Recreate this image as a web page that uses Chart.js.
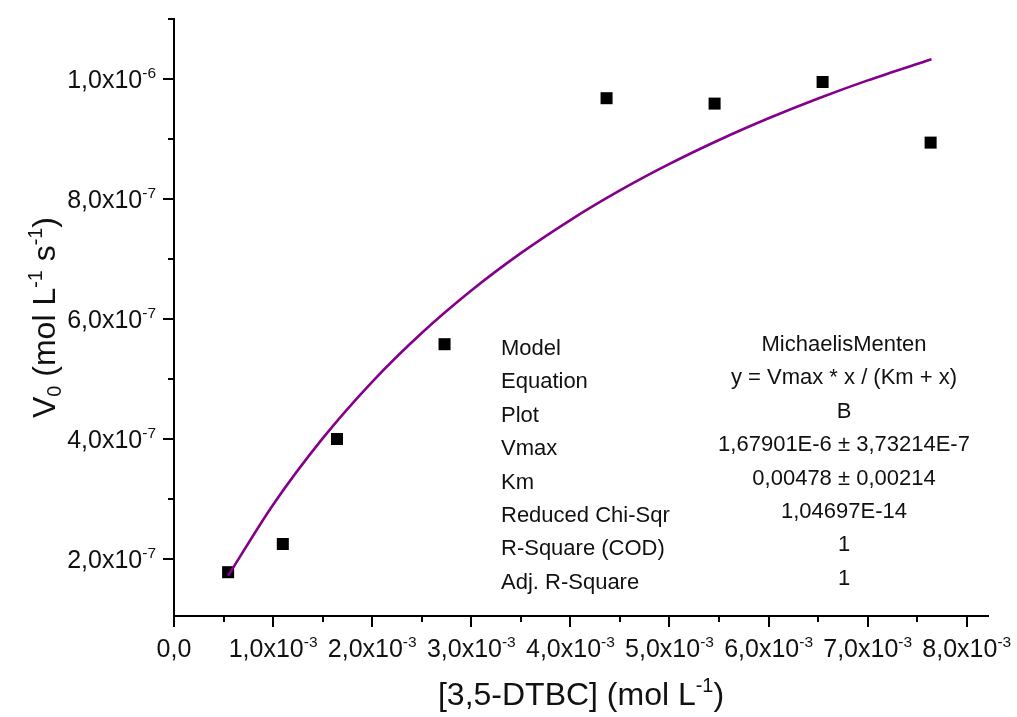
<!DOCTYPE html>
<html>
<head>
<meta charset="utf-8">
<script src="https://cdn.jsdelivr.net/npm/chart.js@4.4.1/dist/chart.umd.min.js"></script>
<style>
  html, body { margin: 0; padding: 0; background: #ffffff; }
  #wrap { width: 1017px; height: 717px; position: relative; }
</style>
</head>
<body>
<div id="wrap"><canvas id="c"></canvas></div>
<script>
// ---- data ----
const substrateConc = [0.546e-3, 1.098e-3, 1.645e-3, 2.73e-3, 4.365e-3, 5.455e-3, 6.545e-3, 7.635e-3];
const initialRate   = [1.78e-7, 2.25e-7, 4.0e-7, 5.58e-7, 9.68e-7, 9.59e-7, 9.95e-7, 8.94e-7];

// fitted Michaelis-Menten curve, sampled points (as seen on the picture)
const fitX = [0.546e-3, 1.0e-3, 1.5e-3, 2.0e-3, 2.5e-3, 3.0e-3, 3.5e-3, 4.0e-3, 4.5e-3, 5.0e-3, 5.5e-3, 6.0e-3, 6.5e-3, 7.0e-3, 7.644e-3];
const fitY = [1.721e-7, 2.905e-7, 4.010e-7, 4.953e-7, 5.766e-7, 6.474e-7, 7.097e-7, 7.649e-7, 8.142e-7, 8.584e-7, 8.983e-7, 9.345e-7, 9.675e-7, 9.977e-7, 1.0330e-6];

// axis ticks
const xMajorTicks = [0, 1e-3, 2e-3, 3e-3, 4e-3, 5e-3, 6e-3, 7e-3, 8e-3];
const xMajorLabels = ["0,0", "1,0x10", "2,0x10", "3,0x10", "4,0x10", "5,0x10", "6,0x10", "7,0x10", "8,0x10"];
const xMajorExps = ["", "-3", "-3", "-3", "-3", "-3", "-3", "-3", "-3"];
const xMinorTicks = [0.5e-3, 1.5e-3, 2.5e-3, 3.5e-3, 4.5e-3, 5.5e-3, 6.5e-3, 7.5e-3];
const yMajorTicks = [2e-7, 4e-7, 6e-7, 8e-7, 1e-6];
const yMajorLabels = ["2,0x10", "4,0x10", "6,0x10", "8,0x10", "1,0x10"];
const yMajorExps = ["-7", "-7", "-7", "-7", "-6"];
const yMinorTicks = [3e-7, 5e-7, 7e-7, 9e-7, 1.1e-6];

// fit report table
const statNames = ["Model", "Equation", "Plot", "Vmax", "Km", "Reduced Chi-Sqr", "R-Square (COD)", "Adj. R-Square"];
const statValues = ["MichaelisMenten", "y = Vmax * x / (Km + x)", "B", "1,67901E-6 \u00B1 3,73214E-7", "0,00478 \u00B1 0,00214", "1,04697E-14", "1", "1"];

const FONT = '"Liberation Sans", Arial, Helvetica, sans-serif';
const INK = '#111111';

function partsWidth(ctx, parts, size) {
  let w = 0;
  for (const [t, m] of parts) {
    const s = m === 0 ? size : size * 0.62;
    ctx.font = s + 'px ' + FONT;
    w += ctx.measureText(t).width;
  }
  return w;
}
function drawParts(ctx, parts, x, y, size, align) {
  const w = partsWidth(ctx, parts, size);
  let cx = align === 'center' ? x - w / 2 : (align === 'right' ? x - w : x);
  ctx.textAlign = 'left';
  ctx.textBaseline = 'alphabetic';
  for (const [t, m] of parts) {
    const s = m === 0 ? size : size * 0.62;
    ctx.font = s + 'px ' + FONT;
    let dy = 0;
    if (m === 1) dy = -size * 0.40;
    if (m === -1) dy = size * 0.20;
    ctx.fillText(t, cx, y + dy);
    cx += ctx.measureText(t).width;
  }
}

const decorPlugin = {
  id: 'decor',
  afterDraw(chart) {
    const ctx = chart.ctx;
    const xs = chart.scales.x, ys = chart.scales.y;
    const area = chart.chartArea;
    ctx.save();
    ctx.strokeStyle = '#000';
    ctx.fillStyle = INK;
    ctx.lineWidth = 2;
    ctx.lineCap = 'butt';
    // x ticks
    const xb = area.bottom;
    xMajorTicks.forEach(v => {
      const px = Math.round(xs.getPixelForValue(v));
      ctx.beginPath(); ctx.moveTo(px, xb); ctx.lineTo(px, xb + 11); ctx.stroke();
    });
    xMinorTicks.forEach(v => {
      const px = Math.round(xs.getPixelForValue(v));
      ctx.beginPath(); ctx.moveTo(px, xb); ctx.lineTo(px, xb + 6); ctx.stroke();
    });
    // y ticks
    const yl = area.left;
    yMajorTicks.forEach(v => {
      const py = Math.round(ys.getPixelForValue(v));
      ctx.beginPath(); ctx.moveTo(yl, py); ctx.lineTo(yl - 11, py); ctx.stroke();
    });
    yMinorTicks.forEach(v => {
      const py = Math.round(ys.getPixelForValue(v));
      ctx.beginPath(); ctx.moveTo(yl, py); ctx.lineTo(yl - 6, py); ctx.stroke();
    });
    // x tick labels
    const tickSize = 25;
    xMajorTicks.forEach((v, i) => {
      const px = xs.getPixelForValue(v);
      const parts = [[xMajorLabels[i], 0]];
      if (xMajorExps[i]) parts.push([xMajorExps[i], 1]);
      drawParts(ctx, parts, px, xb + 41, tickSize, 'center');
    });
    // y tick labels
    yMajorTicks.forEach((v, i) => {
      const py = ys.getPixelForValue(v);
      drawParts(ctx, [[yMajorLabels[i], 0], [yMajorExps[i], 1]], yl - 18, py + 9, tickSize, 'right');
    });
    // axis titles
    const titleSize = 32;
    drawParts(ctx, [["[3,5-DTBC] (mol L", 0], ["-1", 1], [")", 0]], (area.left + area.right) / 2, 705, titleSize, 'center');
    ctx.save();
    ctx.translate(55, (area.top + area.bottom) / 2);
    ctx.rotate(-Math.PI / 2);
    drawParts(ctx, [["V", 0], ["0", -1], [" (mol L", 0], ["-1", 1], [" s", 0], ["-1", 1], [")", 0]], 0, 0, titleSize, 'center');
    ctx.restore();
    // stats table
    const statSize = 22;
    statNames.forEach((n, i) => {
      const by = 355 + i * 33.4;
      drawParts(ctx, [[n, 0]], 501, by, statSize, 'left');
      drawParts(ctx, [[statValues[i], 0]], 844, by - 4, statSize, 'center');
    });
    ctx.restore();
  }
};

new Chart(document.getElementById('c'), {
  type: 'scatter',
  data: {
    datasets: [
      {
        label: 'B',
        data: substrateConc.map((x, i) => ({ x: x, y: initialRate[i] })),
        showLine: false,
        pointStyle: 'rect',
        pointRadius: 8.5,
        pointHoverRadius: 8.5,
        backgroundColor: '#000000',
        borderColor: '#000000',
        borderWidth: 0,
        order: 2
      },
      {
        label: 'Fit',
        data: fitX.map((x, i) => ({ x: x, y: fitY[i] })),
        showLine: true,
        pointRadius: 0,
        borderColor: '#85008a',
        borderWidth: 2.6,
        cubicInterpolationMode: 'monotone',
        fill: false,
        order: 1
      }
    ]
  },
  options: {
    responsive: true,
    maintainAspectRatio: false,
    animation: false,
    events: [],
    layout: { padding: { left: 174, right: 29, top: 19, bottom: 101 } },
    plugins: { legend: { display: false }, tooltip: { enabled: false }, title: { display: false } },
    scales: {
      x: {
        type: 'linear', min: 0, max: 8.214e-3,
        grid: { display: false, drawTicks: false },
        ticks: { display: false },
        border: { display: true, color: '#000000', width: 2 }
      },
      y: {
        type: 'linear', min: 1.05e-7, max: 1.1e-6,
        grid: { display: false, drawTicks: false },
        ticks: { display: false },
        border: { display: true, color: '#000000', width: 2 }
      }
    }
  },
  plugins: [decorPlugin]
});
</script>
</body>
</html>
